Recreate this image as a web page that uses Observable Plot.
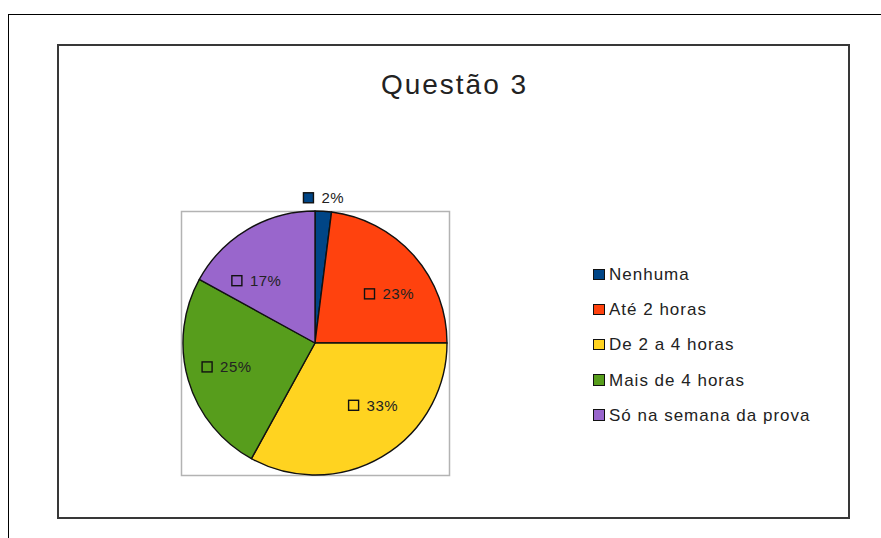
<!DOCTYPE html>
<html>
<head>
<meta charset="utf-8">
<script src="https://cdn.jsdelivr.net/npm/d3@7"></script>
<script src="https://cdn.jsdelivr.net/npm/@observablehq/plot@0.6"></script>
<style>
  html, body { margin: 0; padding: 0; background: #fff; }
  #page { position: relative; width: 881px; height: 538px; overflow: hidden;
          font-family: "Liberation Sans", Arial, sans-serif; color: #222; }
  #chart { position: absolute; left: 0; top: 0; }
  .outer { position: absolute; left: 8px; top: 14px; width: 900px; height: 600px;
           border-top: 1.5px solid #000; border-left: 1.5px solid #000; }
  .inner { position: absolute; left: 57px; top: 44px; width: 789px; height: 471px;
           border: 2px solid #383838; }
  .title { position: absolute; left: 57px; width: 795px; top: 71px; text-align: center;
           font-size: 28px; line-height: 28px; letter-spacing: 2px; white-space: nowrap; }
  .lg-row { position: absolute; left: 593px; height: 17px; line-height: 17px;
            font-size: 17px; letter-spacing: 1px; white-space: nowrap; }
  .lg-key { position: absolute; left: 0; top: 2.5px; width: 11.5px; height: 11.5px;
            box-sizing: border-box; border: 1.5px solid #111; }
  .lg-text { position: absolute; left: 16px; top: 0; }
</style>
</head>
<body>
<div id="page"></div>
<script>
// ---- data ----
const title = "Questão 3";
const categories = ["Nenhuma", "Até 2 horas", "De 2 a 4 horas", "Mais de 4 horas", "Só na semana da prova"];
const percents = [2, 23, 33, 25, 17];
const colors = ["#004586", "#ff420e", "#ffd320", "#579d1c", "#9966cc"];

const data = categories.map((c, i) => ({category: c, value: percents[i], color: colors[i]}));
const slices = d3.pie().sort(null).value(d => d.value)(data);

// text measuring helper
const ctx = document.createElement("canvas").getContext("2d");
function textWidth(str, size, spacing) {
  ctx.font = `${size}px "Liberation Sans"`;
  return ctx.measureText(str).width + spacing * str.length;
}

const labelSize = 15, labelSpacing = 0.5;

function pieMark(index, scales) {
  const cx = scales.x(0), cy = scales.y(0);
  const R = scales.x(1) - scales.x(0);
  const Ry = scales.y(0) - scales.y(1);
  const g = d3.create("svg:g");
  const arc = d3.arc().innerRadius(0).outerRadius(R);
  g.append("g").attr("transform", `translate(${cx},${cy})`)
    .selectAll("path").data(slices).join("path")
    .attr("d", arc)
    .attr("fill", d => d.data.color)
    .attr("stroke", "#111")
    .attr("stroke-width", 1.4)
    .attr("stroke-linejoin", "round");

  for (const s of slices) {
    const a = (s.startAngle + s.endAngle) / 2;
    const pct = Math.round(s.value) + "%";
    const tw = textWidth(pct, labelSize, labelSpacing);
    const W = 18 + tw;
    const inside = s.value >= 5;
    const rr = inside ? 0.5 : 1 + 8 / R;
    const ax = cx + rr * R * Math.sin(a);
    const ay = cy - rr * Ry * Math.cos(a);
    let left, baseline;
    if (inside) {
      left = Math.sin(a) >= 0 ? ax : ax - W;
      baseline = Math.cos(a) >= 0 ? ay : ay + 11;
    } else {
      left = ax - W / 2;
      baseline = ay;
    }
    g.append("rect")
      .attr("x", left).attr("y", baseline - 10.5)
      .attr("width", 10).attr("height", 10)
      .attr("fill", s.data.color)
      .attr("stroke", "#111").attr("stroke-width", 1.4);
    g.append("text")
      .attr("x", left + 18).attr("y", baseline)
      .attr("text-anchor", "start")
      .attr("font-size", labelSize)
      .attr("letter-spacing", labelSpacing)
      .attr("fill", "#222")
      .text(pct);
  }
  return g.node();
}

const chart = Plot.plot({
  width: 881,
  height: 538,
  marginLeft: 181,
  marginRight: 432,
  marginTop: 211,
  marginBottom: 63,
  x: {domain: [-1.015, 1.015], axis: null},
  y: {domain: [-1, 1], axis: null},
  style: {background: "transparent", fontFamily: "Liberation Sans, Arial, sans-serif"},
  marks: [
    Plot.frame({stroke: "#b3b3b3", strokeWidth: 1.5}),
    pieMark
  ]
});
chart.id = "chart";

const page = document.getElementById("page");
page.appendChild(chart);

const outer = document.createElement("div"); outer.className = "outer"; page.appendChild(outer);
const inner = document.createElement("div"); inner.className = "inner"; page.appendChild(inner);
const t = document.createElement("div"); t.className = "title"; t.textContent = title; page.appendChild(t);

categories.forEach((c, i) => {
  const row = document.createElement("div");
  row.className = "lg-row";
  row.style.top = (266 + 35.2 * i) + "px";
  const key = document.createElement("div");
  key.className = "lg-key";
  key.style.background = colors[i];
  const txt = document.createElement("div");
  txt.className = "lg-text";
  txt.textContent = c;
  row.appendChild(key); row.appendChild(txt);
  page.appendChild(row);
});
</script>
</body>
</html>
